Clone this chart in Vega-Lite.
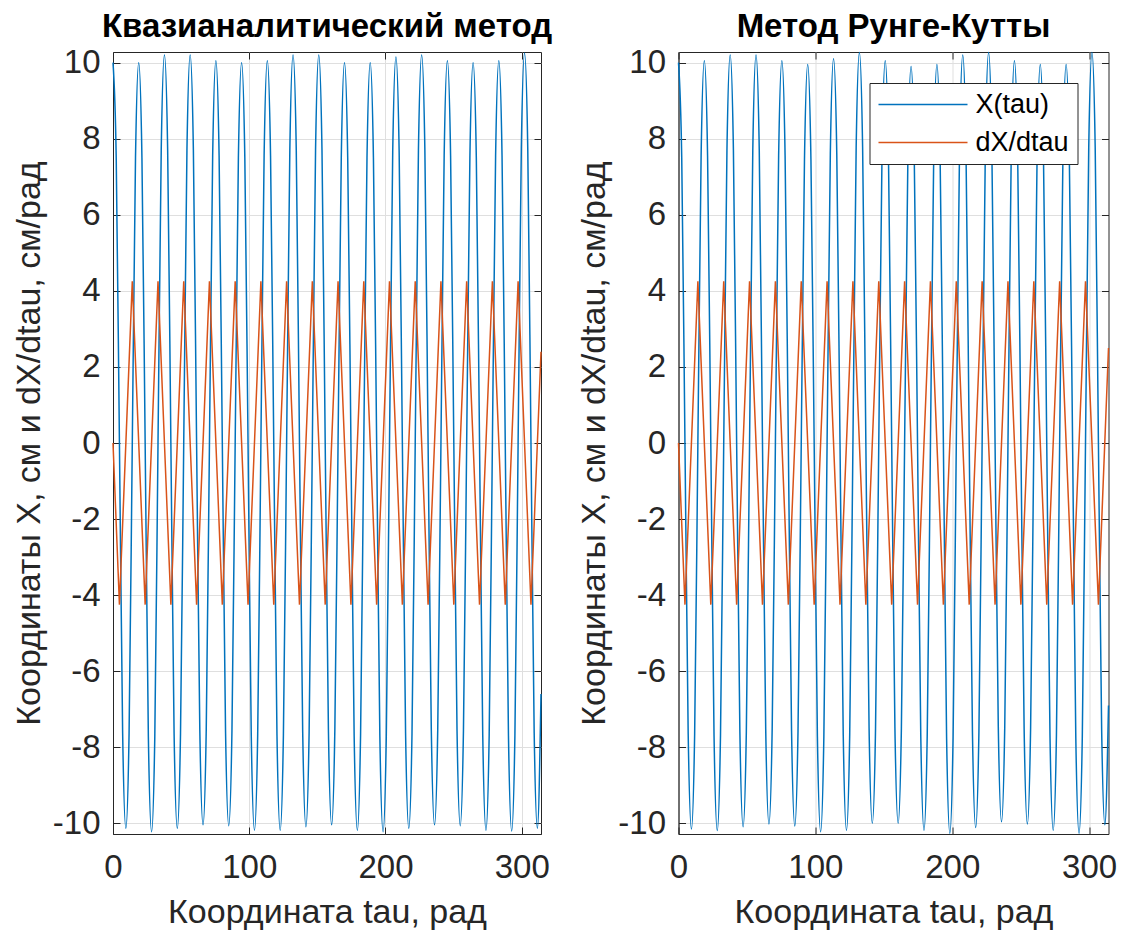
{
  "$schema": "https://vega.github.io/schema/vega-lite/v6.json",
  "background": "white",
  "padding": {"left": 11, "top": 10, "right": 6, "bottom": 2},
  "bounds": "flush",
  "spacing": 137.5,
  "datasets": {
    "quasi_x": [
      {"tau": 0, "value": 10.0}, {"tau": 2.36, "value": 7.5}, {"tau": 4.72, "value": 0}, {"tau": 7.08, "value": -7.63}, {"tau": 9.44, "value": -10.13}, {"tau": 11.8, "value": -7.63}, {"tau": 14.16, "value": 0}, {"tau": 16.52, "value": 7.5},
      {"tau": 18.88, "value": 10.0}, {"tau": 21.24, "value": 7.5}, {"tau": 23.6, "value": 0}, {"tau": 25.96, "value": -7.72}, {"tau": 28.32, "value": -10.22}, {"tau": 30.68, "value": -7.72}, {"tau": 33.04, "value": 0}, {"tau": 35.4, "value": 7.7},
      {"tau": 37.76, "value": 10.2}, {"tau": 40.12, "value": 7.7}, {"tau": 42.48, "value": 0}, {"tau": 44.84, "value": -7.63}, {"tau": 47.2, "value": -10.13}, {"tau": 49.56, "value": -7.63}, {"tau": 51.92, "value": 0}, {"tau": 54.28, "value": 7.7},
      {"tau": 56.64, "value": 10.2}, {"tau": 59.0, "value": 7.7}, {"tau": 61.36, "value": 0}, {"tau": 63.72, "value": -7.54}, {"tau": 66.08, "value": -10.04}, {"tau": 68.44, "value": -7.54}, {"tau": 70.8, "value": 0}, {"tau": 73.16, "value": 7.55},
      {"tau": 75.52, "value": 10.05}, {"tau": 77.88, "value": 7.55}, {"tau": 80.24, "value": 0}, {"tau": 82.6, "value": -7.56}, {"tau": 84.96, "value": -10.06}, {"tau": 87.32, "value": -7.56}, {"tau": 89.68, "value": 0}, {"tau": 92.04, "value": 7.5},
      {"tau": 94.4, "value": 10.0}, {"tau": 96.76, "value": 7.5}, {"tau": 99.12, "value": 0}, {"tau": 101.48, "value": -7.68}, {"tau": 103.84, "value": -10.18}, {"tau": 106.2, "value": -7.68}, {"tau": 108.56, "value": 0}, {"tau": 110.92, "value": 7.55},
      {"tau": 113.28, "value": 10.05}, {"tau": 115.64, "value": 7.55}, {"tau": 118.0, "value": 0}, {"tau": 120.36, "value": -7.68}, {"tau": 122.72, "value": -10.18}, {"tau": 125.08, "value": -7.68}, {"tau": 127.44, "value": 0}, {"tau": 129.8, "value": 7.7},
      {"tau": 132.16, "value": 10.2}, {"tau": 134.52, "value": 7.7}, {"tau": 136.88, "value": 0}, {"tau": 139.24, "value": -7.59}, {"tau": 141.6, "value": -10.09}, {"tau": 143.96, "value": -7.59}, {"tau": 146.32, "value": 0}, {"tau": 148.68, "value": 7.7},
      {"tau": 151.04, "value": 10.2}, {"tau": 153.4, "value": 7.7}, {"tau": 155.76, "value": 0}, {"tau": 158.12, "value": -7.54}, {"tau": 160.48, "value": -10.04}, {"tau": 162.84, "value": -7.54}, {"tau": 165.2, "value": 0}, {"tau": 167.56, "value": 7.5},
      {"tau": 169.92, "value": 10.0}, {"tau": 172.28, "value": 7.5}, {"tau": 174.64, "value": 0}, {"tau": 177.0, "value": -7.68}, {"tau": 179.36, "value": -10.18}, {"tau": 181.72, "value": -7.68}, {"tau": 184.08, "value": 0}, {"tau": 186.44, "value": 7.5},
      {"tau": 188.8, "value": 10.0}, {"tau": 191.16, "value": 7.5}, {"tau": 193.52, "value": 0}, {"tau": 195.88, "value": -7.72}, {"tau": 198.24, "value": -10.22}, {"tau": 200.6, "value": -7.72}, {"tau": 202.96, "value": 0}, {"tau": 205.32, "value": 7.65},
      {"tau": 207.68, "value": 10.15}, {"tau": 210.04, "value": 7.65}, {"tau": 212.4, "value": 0}, {"tau": 214.76, "value": -7.63}, {"tau": 217.12, "value": -10.13}, {"tau": 219.48, "value": -7.63}, {"tau": 221.84, "value": 0}, {"tau": 224.2, "value": 7.7},
      {"tau": 226.56, "value": 10.2}, {"tau": 228.92, "value": 7.7}, {"tau": 231.28, "value": 0}, {"tau": 233.64, "value": -7.54}, {"tau": 236.0, "value": -10.04}, {"tau": 238.36, "value": -7.54}, {"tau": 240.72, "value": 0}, {"tau": 243.08, "value": 7.55},
      {"tau": 245.44, "value": 10.05}, {"tau": 247.8, "value": 7.55}, {"tau": 250.16, "value": 0}, {"tau": 252.52, "value": -7.56}, {"tau": 254.88, "value": -10.06}, {"tau": 257.24, "value": -7.56}, {"tau": 259.6, "value": 0}, {"tau": 261.96, "value": 7.5},
      {"tau": 264.32, "value": 10.0}, {"tau": 266.68, "value": 7.5}, {"tau": 269.04, "value": 0}, {"tau": 271.4, "value": -7.68}, {"tau": 273.76, "value": -10.18}, {"tau": 276.12, "value": -7.68}, {"tau": 278.48, "value": 0}, {"tau": 280.84, "value": 7.55},
      {"tau": 283.2, "value": 10.05}, {"tau": 285.56, "value": 7.55}, {"tau": 287.92, "value": 0}, {"tau": 290.28, "value": -7.7}, {"tau": 292.64, "value": -10.2}, {"tau": 295.0, "value": -7.7}, {"tau": 297.36, "value": 0}, {"tau": 299.72, "value": 7.75},
      {"tau": 302.08, "value": 10.25}, {"tau": 304.44, "value": 7.75}, {"tau": 306.8, "value": 0}, {"tau": 309.16, "value": -7.63}, {"tau": 311.52, "value": -10.13}, {"tau": 314.16, "value": -6.6}
    ],
    "quasi_dx": [
      {"tau": 0, "value": 0}, {"tau": 4.72, "value": -4.25}, {"tau": 14.16, "value": 4.25}, {"tau": 23.6, "value": -4.25}, {"tau": 33.04, "value": 4.25}, {"tau": 42.48, "value": -4.25}, {"tau": 51.92, "value": 4.25}, {"tau": 61.36, "value": -4.25}, {"tau": 70.8, "value": 4.25},
      {"tau": 80.24, "value": -4.25}, {"tau": 89.68, "value": 4.25}, {"tau": 99.12, "value": -4.25}, {"tau": 108.56, "value": 4.25}, {"tau": 118.0, "value": -4.25}, {"tau": 127.44, "value": 4.25}, {"tau": 136.88, "value": -4.25}, {"tau": 146.32, "value": 4.25},
      {"tau": 155.76, "value": -4.25}, {"tau": 165.2, "value": 4.25}, {"tau": 174.64, "value": -4.25}, {"tau": 184.08, "value": 4.25}, {"tau": 193.52, "value": -4.25}, {"tau": 202.96, "value": 4.25}, {"tau": 212.4, "value": -4.25}, {"tau": 221.84, "value": 4.25},
      {"tau": 231.28, "value": -4.25}, {"tau": 240.72, "value": 4.25}, {"tau": 250.16, "value": -4.25}, {"tau": 259.6, "value": 4.25}, {"tau": 269.04, "value": -4.25}, {"tau": 278.48, "value": 4.25}, {"tau": 287.92, "value": -4.25}, {"tau": 297.36, "value": 4.25},
      {"tau": 306.8, "value": -4.25}, {"tau": 314.16, "value": 2.4}
    ],
    "rk_x": [
      {"tau": 0, "value": 10.0}, {"tau": 2.36, "value": 7.5}, {"tau": 4.72, "value": 0}, {"tau": 7.08, "value": -7.65}, {"tau": 9.44, "value": -10.15}, {"tau": 11.8, "value": -7.65}, {"tau": 14.16, "value": 0}, {"tau": 16.52, "value": 7.55},
      {"tau": 18.88, "value": 10.05}, {"tau": 21.24, "value": 7.55}, {"tau": 23.6, "value": 0}, {"tau": 25.96, "value": -7.69}, {"tau": 28.32, "value": -10.19}, {"tau": 30.68, "value": -7.69}, {"tau": 33.04, "value": 0}, {"tau": 35.4, "value": 7.7},
      {"tau": 37.76, "value": 10.2}, {"tau": 40.12, "value": 7.7}, {"tau": 42.48, "value": 0}, {"tau": 44.84, "value": -7.59}, {"tau": 47.2, "value": -10.09}, {"tau": 49.56, "value": -7.59}, {"tau": 51.92, "value": 0}, {"tau": 54.28, "value": 7.7},
      {"tau": 56.64, "value": 10.2}, {"tau": 59.0, "value": 7.7}, {"tau": 61.36, "value": 0}, {"tau": 63.72, "value": -7.52}, {"tau": 66.08, "value": -10.02}, {"tau": 68.44, "value": -7.52}, {"tau": 70.8, "value": 0}, {"tau": 73.16, "value": 7.55},
      {"tau": 75.52, "value": 10.05}, {"tau": 77.88, "value": 7.55}, {"tau": 80.24, "value": 0}, {"tau": 82.6, "value": -7.57}, {"tau": 84.96, "value": -10.07}, {"tau": 87.32, "value": -7.57}, {"tau": 89.68, "value": 0}, {"tau": 92.04, "value": 7.45},
      {"tau": 94.4, "value": 9.95}, {"tau": 96.76, "value": 7.45}, {"tau": 99.12, "value": 0}, {"tau": 101.48, "value": -7.72}, {"tau": 103.84, "value": -10.22}, {"tau": 106.2, "value": -7.72}, {"tau": 108.56, "value": 0}, {"tau": 110.92, "value": 7.6},
      {"tau": 113.28, "value": 10.1}, {"tau": 115.64, "value": 7.6}, {"tau": 118.0, "value": 0}, {"tau": 120.36, "value": -7.68}, {"tau": 122.72, "value": -10.18}, {"tau": 125.08, "value": -7.68}, {"tau": 127.44, "value": 0}, {"tau": 129.8, "value": 7.77},
      {"tau": 132.16, "value": 10.27}, {"tau": 134.52, "value": 7.77}, {"tau": 136.88, "value": 0}, {"tau": 139.24, "value": -7.5}, {"tau": 141.6, "value": -10.0}, {"tau": 143.96, "value": -7.5}, {"tau": 146.32, "value": 0}, {"tau": 148.68, "value": 7.55},
      {"tau": 151.04, "value": 10.05}, {"tau": 153.4, "value": 7.55}, {"tau": 155.76, "value": 0}, {"tau": 158.12, "value": -7.5}, {"tau": 160.48, "value": -10.0}, {"tau": 162.84, "value": -7.5}, {"tau": 165.2, "value": 0}, {"tau": 167.56, "value": 7.4},
      {"tau": 169.92, "value": 9.9}, {"tau": 172.28, "value": 7.4}, {"tau": 174.64, "value": 0}, {"tau": 177.0, "value": -7.68}, {"tau": 179.36, "value": -10.18}, {"tau": 181.72, "value": -7.68}, {"tau": 184.08, "value": 0}, {"tau": 186.44, "value": 7.45},
      {"tau": 188.8, "value": 9.95}, {"tau": 191.16, "value": 7.45}, {"tau": 193.52, "value": 0}, {"tau": 195.88, "value": -7.76}, {"tau": 198.24, "value": -10.26}, {"tau": 200.6, "value": -7.76}, {"tau": 202.96, "value": 0}, {"tau": 205.32, "value": 7.7},
      {"tau": 207.68, "value": 10.2}, {"tau": 210.04, "value": 7.7}, {"tau": 212.4, "value": 0}, {"tau": 214.76, "value": -7.61}, {"tau": 217.12, "value": -10.11}, {"tau": 219.48, "value": -7.61}, {"tau": 221.84, "value": 0}, {"tau": 224.2, "value": 7.77},
      {"tau": 226.56, "value": 10.27}, {"tau": 228.92, "value": 7.77}, {"tau": 231.28, "value": 0}, {"tau": 233.64, "value": -7.46}, {"tau": 236.0, "value": -9.96}, {"tau": 238.36, "value": -7.46}, {"tau": 240.72, "value": 0}, {"tau": 243.08, "value": 7.55},
      {"tau": 245.44, "value": 10.05}, {"tau": 247.8, "value": 7.55}, {"tau": 250.16, "value": 0}, {"tau": 252.52, "value": -7.52}, {"tau": 254.88, "value": -10.02}, {"tau": 257.24, "value": -7.52}, {"tau": 259.6, "value": 0}, {"tau": 261.96, "value": 7.45},
      {"tau": 264.32, "value": 9.95}, {"tau": 266.68, "value": 7.45}, {"tau": 269.04, "value": 0}, {"tau": 271.4, "value": -7.68}, {"tau": 273.76, "value": -10.18}, {"tau": 276.12, "value": -7.68}, {"tau": 278.48, "value": 0}, {"tau": 280.84, "value": 7.45},
      {"tau": 283.2, "value": 9.95}, {"tau": 285.56, "value": 7.45}, {"tau": 287.92, "value": 0}, {"tau": 290.28, "value": -7.76}, {"tau": 292.64, "value": -10.26}, {"tau": 295.0, "value": -7.76}, {"tau": 297.36, "value": 0}, {"tau": 299.72, "value": 7.77},
      {"tau": 302.08, "value": 10.27}, {"tau": 304.44, "value": 7.77}, {"tau": 306.8, "value": 0}, {"tau": 309.16, "value": -7.54}, {"tau": 311.52, "value": -10.04}, {"tau": 314.16, "value": -6.9}
    ],
    "rk_dx": [
      {"tau": 0, "value": 0}, {"tau": 4.72, "value": -4.25}, {"tau": 14.16, "value": 4.25}, {"tau": 23.6, "value": -4.25}, {"tau": 33.04, "value": 4.25}, {"tau": 42.48, "value": -4.25}, {"tau": 51.92, "value": 4.25}, {"tau": 61.36, "value": -4.25}, {"tau": 70.8, "value": 4.25},
      {"tau": 80.24, "value": -4.25}, {"tau": 89.68, "value": 4.25}, {"tau": 99.12, "value": -4.25}, {"tau": 108.56, "value": 4.25}, {"tau": 118.0, "value": -4.25}, {"tau": 127.44, "value": 4.25}, {"tau": 136.88, "value": -4.25}, {"tau": 146.32, "value": 4.25},
      {"tau": 155.76, "value": -4.25}, {"tau": 165.2, "value": 4.25}, {"tau": 174.64, "value": -4.25}, {"tau": 184.08, "value": 4.25}, {"tau": 193.52, "value": -4.25}, {"tau": 202.96, "value": 4.25}, {"tau": 212.4, "value": -4.25}, {"tau": 221.84, "value": 4.25},
      {"tau": 231.28, "value": -4.25}, {"tau": 240.72, "value": 4.25}, {"tau": 250.16, "value": -4.25}, {"tau": 259.6, "value": 4.25}, {"tau": 269.04, "value": -4.25}, {"tau": 278.48, "value": 4.25}, {"tau": 287.92, "value": -4.25}, {"tau": 297.36, "value": 4.25},
      {"tau": 306.8, "value": -4.25}, {"tau": 314.16, "value": 2.5}
    ]
  },
  "config": {
    "font": "Liberation Sans",
    "view": {"stroke": "#262626", "strokeWidth": 1},
    "axis": {
      "domainColor": "#262626", "domainWidth": 1,
      "tickColor": "#262626", "tickSize": -7, "tickWidth": 1,
      "labelColor": "#262626", "labelFont": "Liberation Sans", "labelFontSize": 33, "labelFlush": false,
      "titleColor": "#262626", "titleFont": "Liberation Sans", "titleFontSize": 34, "titleFontWeight": "normal",
      "gridColor": "#DFDFDF", "gridWidth": 1
    },
    "axisBottom": {"labelPadding": 24, "titlePadding": 11},
    "axisLeft": {"labelPadding": 20, "titlePadding": 6},
    "title": {"fontSize": 33, "fontWeight": "bold", "color": "black", "font": "Liberation Sans", "anchor": "middle", "offset": 3, "baseline": "alphabetic"},
    "legend": {
      "orient": "top-right", "offset": 31, "padding": 8,
      "strokeColor": "#262626", "fillColor": "white", "cornerRadius": 0,
      "labelFont": "Liberation Sans", "labelFontSize": 27, "labelColor": "black", "labelOffset": 7,
      "symbolType": "stroke", "symbolSize": 7921, "symbolStrokeWidth": 1.5, "clipHeight": 27, "rowPadding": 10
    }
  },
  "hconcat": [
    {
      "title": "Квазианалитический метод",
      "width": 428,
      "height": 782,
      "layer": [
        {
          "data": {"name": "quasi_x"},
          "mark": {"type": "line", "interpolate": "monotone", "strokeWidth": 1.5},
          "encoding": {
            "x": {"field": "tau", "type": "quantitative", "scale": {"domain": [0, 314.16], "nice": false, "zero": false},
                  "axis": {"orient": "bottom", "values": [0, 100, 200, 300], "title": "Координата tau, рад"}},
            "y": {"field": "value", "type": "quantitative", "scale": {"domain": [-10.28, 10.28], "nice": false, "zero": false},
                  "axis": {"orient": "left", "values": [-10, -8, -6, -4, -2, 0, 2, 4, 6, 8, 10], "title": "Координаты X, см и dX/dtau, см/рад", "labelExpr": "replace(datum.label, '−', '-')"}},
            "color": {"datum": "X(tau)", "type": "nominal", "scale": {"domain": ["X(tau)", "dX/dtau"], "range": ["#0072BD", "#D95319"]}, "legend": null}
          }
        },
        {
          "data": {"name": "quasi_dx"},
          "mark": {"type": "line", "strokeWidth": 1.5},
          "encoding": {
            "x": {"field": "tau", "type": "quantitative", "axis": {"orient": "top", "values": [0, 100, 200, 300], "labels": false, "title": null, "grid": false, "domain": false}},
            "y": {"field": "value", "type": "quantitative", "axis": {"orient": "right", "values": [-10, -8, -6, -4, -2, 0, 2, 4, 6, 8, 10], "labels": false, "title": null, "grid": false, "domain": false}},
            "color": {"datum": "dX/dtau", "type": "nominal", "legend": null}
          }
        }
      ],
      "resolve": {"axis": {"x": "independent", "y": "independent"}}
    },
    {
      "title": "Метод Рунге-Кутты",
      "width": 430,
      "height": 782,
      "layer": [
        {
          "data": {"name": "rk_x"},
          "mark": {"type": "line", "interpolate": "monotone", "strokeWidth": 1.5},
          "encoding": {
            "x": {"field": "tau", "type": "quantitative", "scale": {"domain": [0, 314.16], "nice": false, "zero": false},
                  "axis": {"orient": "bottom", "values": [0, 100, 200, 300], "title": "Координата tau, рад"}},
            "y": {"field": "value", "type": "quantitative", "scale": {"domain": [-10.28, 10.28], "nice": false, "zero": false},
                  "axis": {"orient": "left", "values": [-10, -8, -6, -4, -2, 0, 2, 4, 6, 8, 10], "title": "Координаты X, см и dX/dtau, см/рад", "labelExpr": "replace(datum.label, '−', '-')"}},
            "color": {"datum": "X(tau)", "type": "nominal", "scale": {"domain": ["X(tau)", "dX/dtau"], "range": ["#0072BD", "#D95319"]}, "legend": {"title": null}}
          }
        },
        {
          "data": {"name": "rk_dx"},
          "mark": {"type": "line", "strokeWidth": 1.5},
          "encoding": {
            "x": {"field": "tau", "type": "quantitative", "axis": {"orient": "top", "values": [0, 100, 200, 300], "labels": false, "title": null, "grid": false, "domain": false}},
            "y": {"field": "value", "type": "quantitative", "axis": {"orient": "right", "values": [-10, -8, -6, -4, -2, 0, 2, 4, 6, 8, 10], "labels": false, "title": null, "grid": false, "domain": false}},
            "color": {"datum": "dX/dtau", "type": "nominal"}
          }
        }
      ],
      "resolve": {"axis": {"x": "independent", "y": "independent"}}
    }
  ],
  "resolve": {"scale": {"color": "independent"}, "legend": {"color": "independent"}}
}
